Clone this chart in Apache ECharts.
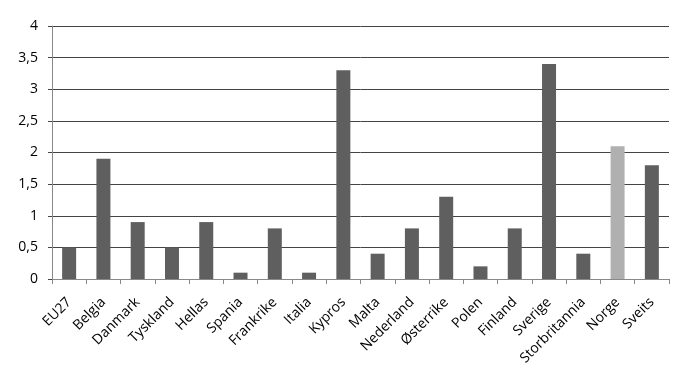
<!DOCTYPE html>
<html><head><meta charset="utf-8">
<script src="https://cdn.jsdelivr.net/npm/echarts@6/dist/echarts.min.js"></script>
<style>html,body{margin:0;padding:0;background:#fff}#c{width:700px;height:381px}</style>
</head><body><div id="c"></div>
<script>
var categories = ["EU27","Belgia","Danmark","Tyskland","Hellas","Spania","Frankrike","Italia","Kypros","Malta","Nederland","Østerrike","Polen","Finland","Sverige","Storbritannia","Norge","Sveits"];
var values = [0.5,1.9,0.9,0.5,0.9,0.1,0.8,0.1,3.3,0.4,0.8,1.3,0.2,0.8,3.4,0.4,2.1,1.8];
var highlight = "Norge";
var chart = echarts.init(document.getElementById('c'), null, {renderer:'canvas'});
chart.setOption({
  animation:false,
  grid:{left:52,right:31,top:26,bottom:102},
  xAxis:{type:'category',data:categories,
    axisLine:{lineStyle:{color:'#888',width:1}},
    axisTick:{show:true,alignWithLabel:false,length:5,lineStyle:{color:'#888'}},
    axisLabel:{rotate:45,interval:0,color:'#000',fontFamily:'Open Sans',fontSize:14,margin:21}
  },
  yAxis:{type:'value',min:0,max:4,interval:0.5,
    axisLine:{show:true,lineStyle:{color:'#888'}},
    axisTick:{show:true,length:4,lineStyle:{color:'#444'}},
    splitLine:{lineStyle:{color:'#444',width:1}},
    axisLabel:{color:'#000',fontFamily:'Open Sans',fontSize:14,margin:14,
      formatter:function(v){return String(v).replace('.',',');}}
  },
  series:[{type:'bar',barWidth:14,
    data:values.map(function(v,i){return {value:v,itemStyle:{color:categories[i]===highlight?'#b0b0b0':'#5f5f5f'}};})
  }]
});
</script></body></html>
